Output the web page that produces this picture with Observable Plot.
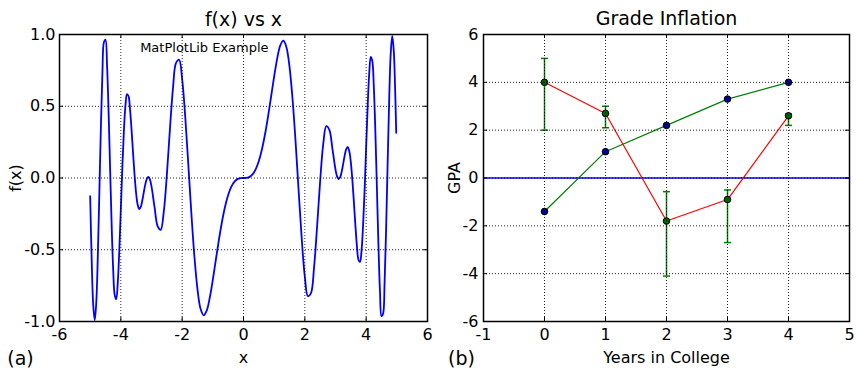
<!DOCTYPE html>
<html><head><meta charset="utf-8">
<script src="https://cdn.jsdelivr.net/npm/d3@7"></script>
<script src="https://cdn.jsdelivr.net/npm/@observablehq/plot@0.6"></script>
<style>
body{margin:0;background:#fff;font-family:"DejaVu Sans",sans-serif;}
#wrap{position:relative;width:856px;height:370px;overflow:hidden;background:#fff;}
#a{position:absolute;left:0;top:0;}
#b{position:absolute;left:440px;top:0;}
svg{overflow:visible}
</style></head><body><div id="wrap"><div id="a"></div><div id="b"></div></div>
<script>
// ---- Panel (a): f(x) vs x ----
const curveX = [-5,-4.95,-4.9,-4.85,-4.8,-4.75,-4.7,-4.65,-4.6,-4.55,-4.5,-4.45,-4.4,-4.35,-4.3,-4.25,-4.2,-4.15,-4.1,-4.05,
  -4,-3.95,-3.9,-3.85,-3.8,-3.75,-3.7,-3.65,-3.6,-3.55,-3.5,-3.45,-3.4,-3.35,-3.3,-3.25,-3.2,-3.15,-3.1,-3.05,
  -3,-2.9,-2.8,-2.7,-2.6,-2.5,-2.4,-2.3,-2.2,-2.1,-2,-1.9,-1.8,-1.7,-1.6,-1.5,-1.4,-1.3,-1.2,-1.1,
  -1,-0.9,-0.8,-0.7,-0.6,-0.5,-0.4,-0.3,-0.2,-0.1,0,
  0.1,0.2,0.3,0.4,0.5,0.6,0.7,0.8,0.9,1,1.1,1.2,1.3,1.4,1.5,1.6,1.7,1.8,1.9,2,
  2.1,2.2,2.3,2.4,2.5,2.6,2.7,2.8,2.9,3,3.05,3.1,3.15,3.2,3.25,3.3,3.35,3.4,3.45,3.5,
  3.55,3.6,3.65,3.7,3.75,3.8,3.85,3.9,3.95,4,4.05,4.1,4.15,4.2,4.25,4.3,4.35,4.4,4.45,4.5,
  4.55,4.6,4.65,4.7,4.75,4.8,4.85,4.9,4.95,4.98];
const curveY = [-0.1269,-0.5727,-0.8859,-0.9898,-0.8636,-0.5403,-0.0987,0.3596,0.7342,0.9478,0.9634,0.7874,0.4649,0.0681,-0.3224,-0.6336,-0.8152,-0.8446,-0.7300,-0.5047,
  -0.2179,0.0761,0.3285,0.5037,0.5839,0.5700,0.4779,0.3340,0.1697,0.0143,-0.1091,-0.1870,-0.2159,-0.2016,-0.1569,-0.0982,-0.0425,-0.0040,0.0077,-0.0112,
  -0.0582,-0.2032,-0.3350,-0.3613,-0.2366,0.0199,0.3375,0.6248,0.8019,0.8239,0.6882,0.4272,0.0957,-0.2469,-0.5486,-0.7761,-0.9117,-0.9567,-0.9241,-0.8338,
  -0.7081,-0.5674,-0.4284,-0.3032,-0.1989,-0.1186,-0.0620,-0.0266,-0.0079,-0.0010,0,
  0.0010,0.0079,0.0266,0.0620,0.1186,0.1989,0.3032,0.4284,0.5674,0.7081,0.8338,0.9241,0.9567,0.9117,0.7761,0.5486,0.2469,-0.0957,-0.4272,-0.6882,
  -0.8239,-0.8019,-0.6248,-0.3375,-0.0199,0.2366,0.3613,0.3350,0.2032,0.0582,0.0112,-0.0077,0.0040,0.0425,0.0982,0.1569,0.2016,0.2159,0.1870,0.1091,
  -0.0143,-0.1697,-0.3340,-0.4779,-0.5700,-0.5839,-0.5037,-0.3285,-0.0761,0.2179,0.5047,0.7300,0.8446,0.8152,0.6336,0.3224,-0.0681,-0.4649,-0.7874,-0.9634,
  -0.9478,-0.7342,-0.3596,0.0987,0.5403,0.8636,0.9898,0.8859,0.5727,0.3147];
const leftXTicks = [-6,-4,-2,0,2,4,6];
const leftYTicks = [-1,-0.5,0,0.5,1];
const leftNote = {x: -3.37, y: 0.905, text: "MatPlotLib Example"};

// ---- Panel (b): Grade Inflation ----
const years = [0,1,2,3,4];
const gpaGreen = [-1.4,1.1,2.2,3.3,4.0];
const gpaRed = [4.0,2.7,-1.8,-0.9,2.6];
const redErrLow = [2.0,2.1,-4.1,-2.7,2.2];
const redErrHigh = [5.0,3.0,-0.57,-0.5,2.68];
const rightXTicks = [-1,0,1,2,3,4,5];
const rightYTicks = [-6,-4,-2,0,2,4,6];

const FONT = "'DejaVu Sans', sans-serif";
const gridStyle = {stroke:"#000", strokeOpacity:0.85, strokeWidth:1, strokeDasharray:"1,2"};

function inward(xt, yt, fw, fh) {
  return [
    Plot.tickX(xt, {x: d => d, insetTop: fh - 4, stroke: "#000"}),
    Plot.tickX(xt, {x: d => d, insetBottom: fh - 4, stroke: "#000"}),
    Plot.tickY(yt, {y: d => d, insetRight: fw - 4, stroke: "#000"}),
    Plot.tickY(yt, {y: d => d, insetLeft: fw - 4, stroke: "#000"})
  ];
}

const curve = curveX.map((x, i) => ({x, y: curveY[i]}));

const left = Plot.plot({
  width: 440, height: 370,
  marginLeft: 59, marginRight: 13, marginTop: 34, marginBottom: 49,
  style: {fontFamily: FONT, fontSize: "16px", color: "#000", background: "#fff", overflow: "visible"},
  x: {domain: [-6, 6]},
  y: {domain: [-1, 1]},
  marks: [
    Plot.line(curve, {x: "x", y: "y", stroke: "#0000ff", strokeWidth: 1.8, curve: "catmull-rom"}),
    Plot.gridX(leftXTicks, gridStyle),
    Plot.gridY(leftYTicks, gridStyle),
    ...inward(leftXTicks, leftYTicks, 368, 287),
    Plot.frame({stroke: "#000", strokeWidth: 1.5}),
    Plot.axisX(leftXTicks, {tickSize: 0, tickPadding: 7, fontSize: 16, label: null, tickFormat: d => String(d)}),
    Plot.axisY(leftYTicks, {tickSize: 0, tickPadding: 4, fontSize: 16, label: null, tickFormat: d => d.toFixed(1)}),
    Plot.text([leftNote], {x: "x", y: "y", text: "text", textAnchor: "start", lineAnchor: "middle", fontSize: 13}),
    Plot.text(["f(x) vs x"], {text: d => d, frameAnchor: "top", dy: -15, lineAnchor: "middle", fontSize: 19}),
    Plot.text(["x"], {text: d => d, frameAnchor: "bottom", dy: 36, lineAnchor: "middle", fontSize: 16}),
    Plot.text(["f(x)"], {text: d => d, frameAnchor: "left", dx: -44, rotate: -90, textAnchor: "middle", lineAnchor: "middle", fontSize: 16}),
    Plot.text(["(a)"], {text: d => d, frameAnchor: "bottom-left", dx: -39, dy: 37, fontSize: 19, textAnchor: "middle", lineAnchor: "middle"})
  ]
});

const green = years.map((x, i) => ({x, y: gpaGreen[i]}));
const red = years.map((x, i) => ({x, y: gpaRed[i], lo: redErrLow[i], hi: redErrHigh[i]}));
const capSymbol = {draw(ctx) { ctx.moveTo(-3.5, 0); ctx.lineTo(3.5, 0); }};

const right = Plot.plot({
  width: 416, height: 370,
  marginLeft: 43, marginRight: 7, marginTop: 34, marginBottom: 49,
  style: {fontFamily: FONT, fontSize: "16px", color: "#000", background: "#fff", overflow: "visible"},
  x: {domain: [-1, 5]},
  y: {domain: [-6, 6]},
  marks: [
    Plot.ruleY([0], {stroke: "#0000ff", strokeWidth: 1.5}),
    Plot.line(green, {x: "x", y: "y", stroke: "#008000", strokeWidth: 1.2}),
    Plot.ruleX(red, {x: "x", y1: "lo", y2: "hi", stroke: "#008000", strokeWidth: 1.5}),
    Plot.dot(red, {x: "x", y: "lo", symbol: capSymbol, stroke: "#008000", strokeWidth: 1.5, fill: "none"}),
    Plot.dot(red, {x: "x", y: "hi", symbol: capSymbol, stroke: "#008000", strokeWidth: 1.5, fill: "none"}),
    Plot.line(red, {x: "x", y: "y", stroke: "#ff0000", strokeWidth: 1.2}),
    Plot.dot(green, {x: "x", y: "y", r: 3.3, fill: "#0000a0", stroke: "#000", strokeWidth: 1}),
    Plot.dot(red, {x: "x", y: "y", r: 3.3, fill: "#006400", stroke: "#000", strokeWidth: 1}),
    Plot.gridX(rightXTicks, gridStyle),
    Plot.gridY(rightYTicks, gridStyle),
    ...inward(rightXTicks, rightYTicks, 366, 287),
    Plot.frame({stroke: "#000", strokeWidth: 1.5}),
    Plot.axisX(rightXTicks, {tickSize: 0, tickPadding: 7, fontSize: 16, label: null, tickFormat: d => String(d)}),
    Plot.axisY(rightYTicks, {tickSize: 0, tickPadding: 5, fontSize: 16, label: null, tickFormat: d => String(d)}),
    Plot.text(["Grade Inflation"], {text: d => d, frameAnchor: "top", dy: -16, lineAnchor: "middle", fontSize: 19}),
    Plot.text(["Years in College"], {text: d => d, frameAnchor: "bottom", dy: 36, lineAnchor: "middle", fontSize: 16}),
    Plot.text(["GPA"], {text: d => d, frameAnchor: "left", dx: -29, rotate: -90, textAnchor: "middle", lineAnchor: "middle", fontSize: 16}),
    Plot.text(["(b)"], {text: d => d, frameAnchor: "bottom-left", dx: -22, dy: 37, fontSize: 19, textAnchor: "middle", lineAnchor: "middle"})
  ]
});

document.getElementById("a").appendChild(left);
document.getElementById("b").appendChild(right);
</script>
</body></html>
